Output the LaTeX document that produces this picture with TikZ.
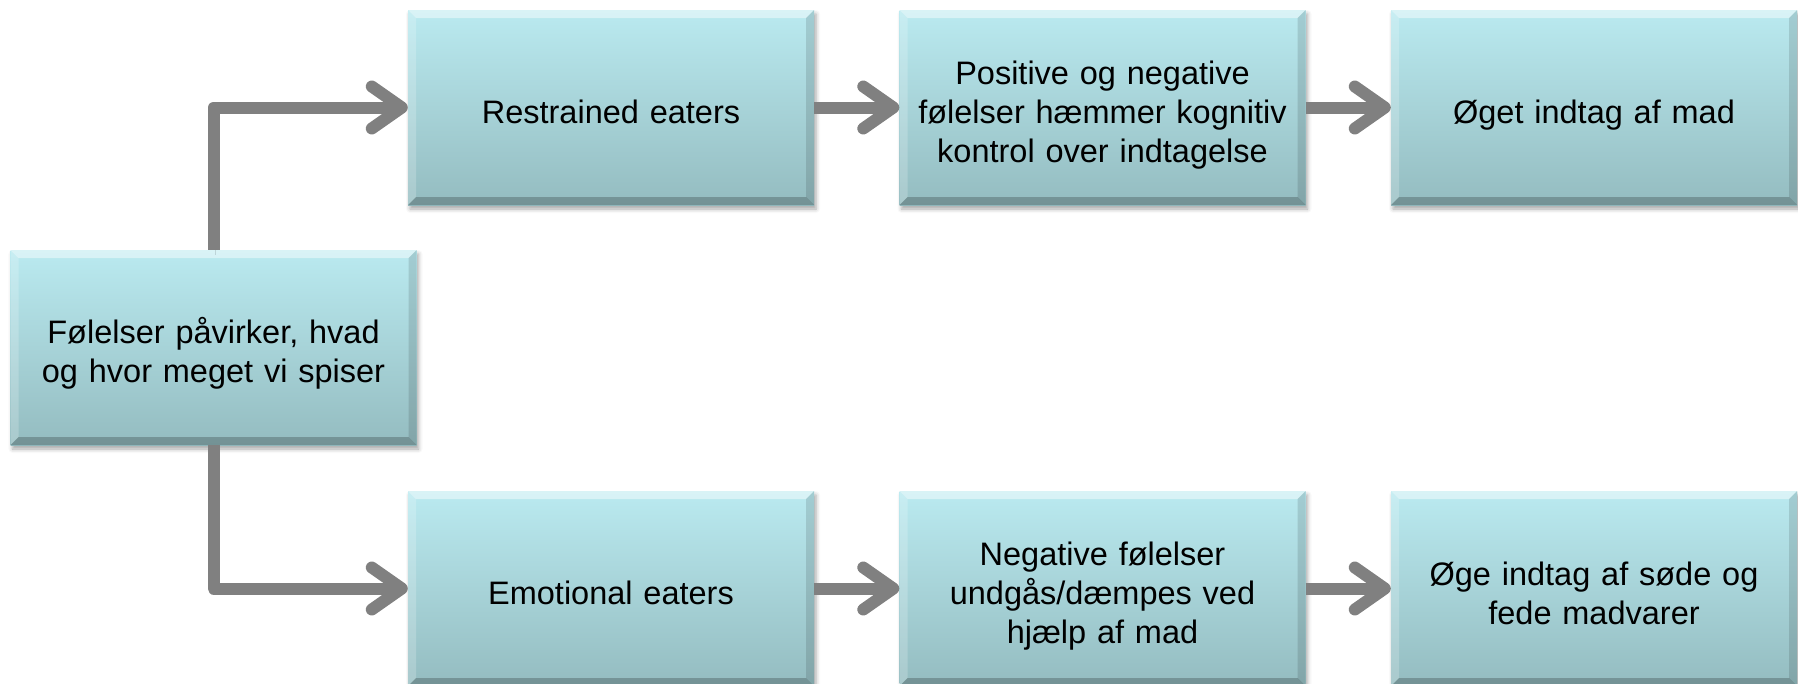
\documentclass[tikz,border=0pt]{standalone}
\usepackage{fontspec}
\setmainfont{Liberation Sans}
\usetikzlibrary{arrows.meta,shadows,shadows.blur}
\definecolor{boxtop}{RGB}{186,234,240}
\definecolor{boxbot}{RGB}{148,188,192}
\definecolor{conn}{RGB}{128,128,128}
\tikzset{
  box/.style={minimum width=406pt, minimum height=195pt, text width=390pt,
    align=center, inner sep=0pt, font=\fontsize{32.5}{39}\selectfont,
    execute at begin node={\rule{0pt}{38pt}},
    execute at end node={\rule[-6pt]{0pt}{6pt}},
    top color=boxtop, bottom color=boxbot,
    blur shadow={shadow xshift=2pt, shadow yshift=-4pt, shadow blur radius=4pt, shadow opacity=35},
    path picture={
      \coordinate (nw) at (path picture bounding box.north west);
      \coordinate (ne) at (path picture bounding box.north east);
      \coordinate (sw) at (path picture bounding box.south west);
      \coordinate (se) at (path picture bounding box.south east);
      \fill[white,opacity=.45] (nw) -- (ne) -- ([shift={(-8pt,-8pt)}]ne) -- ([shift={(8pt,-8pt)}]nw) -- cycle;
      \fill[white,opacity=.2] (nw) -- (sw) -- ([shift={(8pt,8pt)}]sw) -- ([shift={(8pt,-8pt)}]nw) -- cycle;
      \fill[black,opacity=.12] (ne) -- (se) -- ([shift={(-8pt,8pt)}]se) -- ([shift={(-8pt,-8pt)}]ne) -- cycle;
      \fill[black,opacity=.22] (sw) -- (se) -- ([shift={(-8pt,8pt)}]se) -- ([shift={(8pt,8pt)}]sw) -- cycle;
    }},
  conn/.style={draw=conn, line width=12pt, line join=round,
    -{Straight Barb[length=30pt, width=42pt, line cap=round, line join=round]},
    preaction={draw=black, draw opacity=.12, transform canvas={shift={(2pt,-5pt)}}}}
}
\begin{document}
\begin{tikzpicture}[x=1pt,y=1pt]
\useasboundingbox (0,0) rectangle (1798,-683);
\node[box] (L) at (213.5,-347.5) {Følelser påvirker, hvad\\og hvor meget vi spiser};
\node[box] (R1) at (611,-107.5) {Restrained eaters};
\node[box] (R2) at (1102.5,-107.5) {Positive og negative\\følelser hæmmer kognitiv\\kontrol over indtagelse};
\node[box] (R3) at (1594,-107.5) {Øget indtag af mad};
\node[box] (E1) at (611,-588.5) {Emotional eaters};
\node[box] (E2) at (1102.5,-588.5) {Negative følelser\\undgås/dæmpes ved\\hjælp af mad};
\node[box] (E3) at (1594,-588.5) {Øge indtag af søde og\\fede madvarer};
\draw[conn] (L.north) |- (R1.west);
\draw[conn] (L.south) |- (E1.west);
\draw[conn] (R1) -- (R2);
\draw[conn] (R2) -- (R3);
\draw[conn] (E1) -- (E2);
\draw[conn] (E2) -- (E3);
\end{tikzpicture}
\end{document}
